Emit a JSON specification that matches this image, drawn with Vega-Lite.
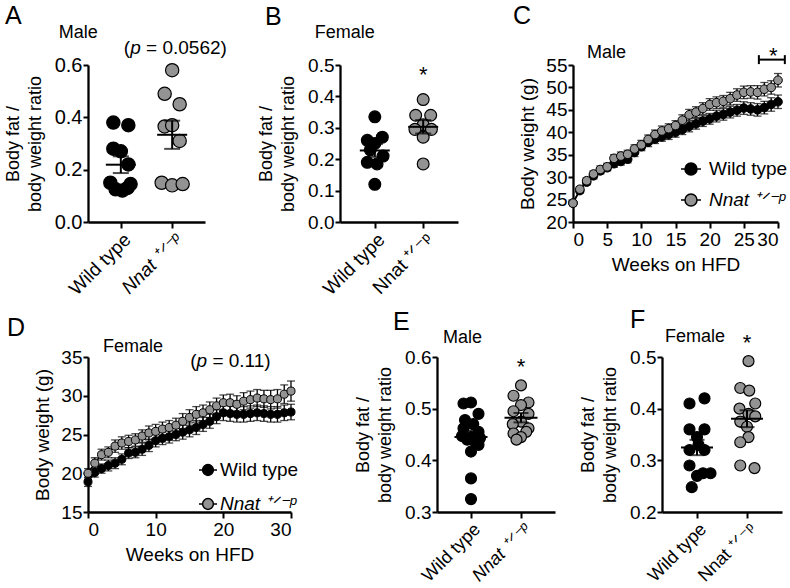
{
  "$schema": "https://vega.github.io/schema/vega-lite/v6.json",
  "autosize": {"type": "pad"},
  "padding": {"left": 4, "top": 3, "right": 0, "bottom": 0},
  "background": "white",
  "config": {
    "font": "Liberation Sans",
    "view": {"stroke": null},
    "axis": {"domainColor": "black", "domainWidth": 2.3, "tickColor": "black", "tickWidth": 2, "tickSize": 6, "labelColor": "black", "titleColor": "black", "labelFontSize": 19, "titleFontSize": 18, "titleFontWeight": "normal", "grid": false, "labelPadding": 2, "titlePadding": 10, "labelOverlap": false},
    "title": {"fontSize": 25, "fontWeight": "normal", "anchor": "start", "frame": "group", "color": "black"},
    "text": {"color": "black", "font": "Liberation Sans", "baseline": "alphabetic"}
  },
  "resolve": {"scale": {"fill": "independent"}, "legend": {"fill": "independent"}},
  "datasets": {
    "fatA": [
      {"group": "Wild type", "ratio": 0.38, "slot": -1},
      {"group": "Wild type", "ratio": 0.37, "slot": 1},
      {"group": "Wild type", "ratio": 0.28, "slot": -1},
      {"group": "Wild type", "ratio": 0.27, "slot": 0},
      {"group": "Wild type", "ratio": 0.22, "slot": 1},
      {"group": "Wild type", "ratio": 0.15, "slot": -1.4},
      {"group": "Wild type", "ratio": 0.145, "slot": 1.3},
      {"group": "Wild type", "ratio": 0.125, "slot": -0.7},
      {"group": "Wild type", "ratio": 0.12, "slot": 0.2},
      {"group": "Wild type", "ratio": 0.13, "slot": 0.9},
      {"group": "Nnat", "ratio": 0.58, "slot": 0},
      {"group": "Nnat", "ratio": 0.49, "slot": -1},
      {"group": "Nnat", "ratio": 0.45, "slot": 1},
      {"group": "Nnat", "ratio": 0.365, "slot": -1},
      {"group": "Nnat", "ratio": 0.37, "slot": 0},
      {"group": "Nnat", "ratio": 0.31, "slot": 1},
      {"group": "Nnat", "ratio": 0.15, "slot": -1.4},
      {"group": "Nnat", "ratio": 0.14, "slot": 0},
      {"group": "Nnat", "ratio": 0.145, "slot": 1.4}
    ],
    "fatB": [
      {"group": "Wild type", "ratio": 0.335, "slot": 0},
      {"group": "Wild type", "ratio": 0.27, "slot": 1},
      {"group": "Wild type", "ratio": 0.26, "slot": -1},
      {"group": "Wild type", "ratio": 0.25, "slot": 0},
      {"group": "Wild type", "ratio": 0.23, "slot": -0.6},
      {"group": "Wild type", "ratio": 0.21, "slot": 1.1},
      {"group": "Wild type", "ratio": 0.19, "slot": -1},
      {"group": "Wild type", "ratio": 0.185, "slot": 0.3},
      {"group": "Wild type", "ratio": 0.12, "slot": 0},
      {"group": "Nnat", "ratio": 0.39, "slot": 0},
      {"group": "Nnat", "ratio": 0.34, "slot": -1},
      {"group": "Nnat", "ratio": 0.34, "slot": 1},
      {"group": "Nnat", "ratio": 0.31, "slot": 0},
      {"group": "Nnat", "ratio": 0.295, "slot": -1.1},
      {"group": "Nnat", "ratio": 0.295, "slot": 1.1},
      {"group": "Nnat", "ratio": 0.27, "slot": 0},
      {"group": "Nnat", "ratio": 0.185, "slot": 0}
    ],
    "fatE": [
      {"group": "Wild type", "ratio": 0.51, "slot": -1},
      {"group": "Wild type", "ratio": 0.512, "slot": 0},
      {"group": "Wild type", "ratio": 0.49, "slot": 1},
      {"group": "Wild type", "ratio": 0.478, "slot": -0.8},
      {"group": "Wild type", "ratio": 0.47, "slot": 0.3},
      {"group": "Wild type", "ratio": 0.462, "slot": -1},
      {"group": "Wild type", "ratio": 0.455, "slot": 1},
      {"group": "Wild type", "ratio": 0.447, "slot": -1.2},
      {"group": "Wild type", "ratio": 0.445, "slot": 0},
      {"group": "Wild type", "ratio": 0.443, "slot": 1.2},
      {"group": "Wild type", "ratio": 0.44, "slot": -0.5},
      {"group": "Wild type", "ratio": 0.435, "slot": 0.6},
      {"group": "Wild type", "ratio": 0.43, "slot": 1},
      {"group": "Wild type", "ratio": 0.417, "slot": 0},
      {"group": "Wild type", "ratio": 0.365, "slot": 0},
      {"group": "Wild type", "ratio": 0.325, "slot": 0},
      {"group": "Nnat", "ratio": 0.545, "slot": 0},
      {"group": "Nnat", "ratio": 0.525, "slot": -1},
      {"group": "Nnat", "ratio": 0.512, "slot": 1},
      {"group": "Nnat", "ratio": 0.507, "slot": 0},
      {"group": "Nnat", "ratio": 0.495, "slot": -1},
      {"group": "Nnat", "ratio": 0.49, "slot": 1},
      {"group": "Nnat", "ratio": 0.475, "slot": 0},
      {"group": "Nnat", "ratio": 0.47, "slot": -1.1},
      {"group": "Nnat", "ratio": 0.462, "slot": 1},
      {"group": "Nnat", "ratio": 0.455, "slot": 0.7},
      {"group": "Nnat", "ratio": 0.452, "slot": -1},
      {"group": "Nnat", "ratio": 0.445, "slot": 0},
      {"group": "Nnat", "ratio": 0.44, "slot": -0.6}
    ],
    "fatF": [
      {"group": "Wild type", "ratio": 0.42, "slot": 1},
      {"group": "Wild type", "ratio": 0.41, "slot": -1},
      {"group": "Wild type", "ratio": 0.36, "slot": -1},
      {"group": "Wild type", "ratio": 0.36, "slot": 1},
      {"group": "Wild type", "ratio": 0.345, "slot": 0},
      {"group": "Wild type", "ratio": 0.32, "slot": -1},
      {"group": "Wild type", "ratio": 0.33, "slot": 0.2},
      {"group": "Wild type", "ratio": 0.32, "slot": 1},
      {"group": "Wild type", "ratio": 0.29, "slot": -1},
      {"group": "Wild type", "ratio": 0.275, "slot": 0.8},
      {"group": "Wild type", "ratio": 0.275, "slot": 1.8},
      {"group": "Wild type", "ratio": 0.27, "slot": 0},
      {"group": "Wild type", "ratio": 0.248, "slot": -0.7},
      {"group": "Nnat", "ratio": 0.492, "slot": 0.2},
      {"group": "Nnat", "ratio": 0.44, "slot": -0.9},
      {"group": "Nnat", "ratio": 0.435, "slot": 0.3},
      {"group": "Nnat", "ratio": 0.41, "slot": 1.1},
      {"group": "Nnat", "ratio": 0.4, "slot": -1},
      {"group": "Nnat", "ratio": 0.39, "slot": 0.2},
      {"group": "Nnat", "ratio": 0.385, "slot": 1.1},
      {"group": "Nnat", "ratio": 0.375, "slot": -0.9},
      {"group": "Nnat", "ratio": 0.365, "slot": 0},
      {"group": "Nnat", "ratio": 0.345, "slot": 0.2},
      {"group": "Nnat", "ratio": 0.335, "slot": -0.9},
      {"group": "Nnat", "ratio": 0.29, "slot": -0.9},
      {"group": "Nnat", "ratio": 0.285, "slot": 1}
    ],
    "bwC": [
      {"week": 0, "group": "Wild type", "mean": 24.2, "sem": 0.5},
      {"week": 1, "group": "Wild type", "mean": 27.0, "sem": 0.6},
      {"week": 2, "group": "Wild type", "mean": 28.9, "sem": 0.6},
      {"week": 3, "group": "Wild type", "mean": 30.3, "sem": 0.7},
      {"week": 4, "group": "Wild type", "mean": 31.4, "sem": 0.7},
      {"week": 5, "group": "Wild type", "mean": 32.1, "sem": 0.7},
      {"week": 6, "group": "Wild type", "mean": 33.0, "sem": 0.8},
      {"week": 7, "group": "Wild type", "mean": 33.5, "sem": 0.8},
      {"week": 8, "group": "Wild type", "mean": 34.0, "sem": 0.8},
      {"week": 9, "group": "Wild type", "mean": 35.5, "sem": 0.9},
      {"week": 10, "group": "Wild type", "mean": 36.8, "sem": 0.9},
      {"week": 11, "group": "Wild type", "mean": 37.8, "sem": 1.0},
      {"week": 12, "group": "Wild type", "mean": 38.5, "sem": 1.0},
      {"week": 13, "group": "Wild type", "mean": 39.0, "sem": 1.0},
      {"week": 14, "group": "Wild type", "mean": 39.5, "sem": 1.1},
      {"week": 15, "group": "Wild type", "mean": 40.0, "sem": 1.1},
      {"week": 16, "group": "Wild type", "mean": 40.6, "sem": 1.1},
      {"week": 17, "group": "Wild type", "mean": 41.3, "sem": 1.2},
      {"week": 18, "group": "Wild type", "mean": 41.9, "sem": 1.2},
      {"week": 19, "group": "Wild type", "mean": 42.5, "sem": 1.2},
      {"week": 20, "group": "Wild type", "mean": 43.0, "sem": 1.2},
      {"week": 21, "group": "Wild type", "mean": 43.6, "sem": 1.3},
      {"week": 22, "group": "Wild type", "mean": 44.0, "sem": 1.3},
      {"week": 23, "group": "Wild type", "mean": 44.5, "sem": 1.3},
      {"week": 24, "group": "Wild type", "mean": 44.9, "sem": 1.3},
      {"week": 25, "group": "Wild type", "mean": 45.4, "sem": 1.4},
      {"week": 26, "group": "Wild type", "mean": 45.2, "sem": 1.4},
      {"week": 27, "group": "Wild type", "mean": 45.0, "sem": 1.4},
      {"week": 28, "group": "Wild type", "mean": 45.5, "sem": 1.4},
      {"week": 29, "group": "Wild type", "mean": 46.2, "sem": 1.5},
      {"week": 30, "group": "Wild type", "mean": 46.8, "sem": 1.5},
      {"week": 0, "group": "Nnat", "mean": 24.2, "sem": 0.6},
      {"week": 1, "group": "Nnat", "mean": 27.3, "sem": 0.6},
      {"week": 2, "group": "Nnat", "mean": 29.2, "sem": 0.7},
      {"week": 3, "group": "Nnat", "mean": 30.7, "sem": 0.7},
      {"week": 4, "group": "Nnat", "mean": 31.7, "sem": 0.8},
      {"week": 5, "group": "Nnat", "mean": 32.3, "sem": 0.8},
      {"week": 6, "group": "Nnat", "mean": 34.2, "sem": 0.8},
      {"week": 7, "group": "Nnat", "mean": 34.7, "sem": 0.9},
      {"week": 8, "group": "Nnat", "mean": 35.1, "sem": 0.9},
      {"week": 9, "group": "Nnat", "mean": 36.3, "sem": 0.9},
      {"week": 10, "group": "Nnat", "mean": 37.2, "sem": 1.0},
      {"week": 11, "group": "Nnat", "mean": 38.4, "sem": 1.0},
      {"week": 12, "group": "Nnat", "mean": 39.5, "sem": 1.0},
      {"week": 13, "group": "Nnat", "mean": 40.3, "sem": 1.1},
      {"week": 14, "group": "Nnat", "mean": 40.8, "sem": 1.1},
      {"week": 15, "group": "Nnat", "mean": 41.5, "sem": 1.1},
      {"week": 16, "group": "Nnat", "mean": 42.7, "sem": 1.2},
      {"week": 17, "group": "Nnat", "mean": 43.9, "sem": 1.2},
      {"week": 18, "group": "Nnat", "mean": 44.5, "sem": 1.2},
      {"week": 19, "group": "Nnat", "mean": 45.3, "sem": 1.3},
      {"week": 20, "group": "Nnat", "mean": 46.2, "sem": 1.3},
      {"week": 21, "group": "Nnat", "mean": 46.6, "sem": 1.3},
      {"week": 22, "group": "Nnat", "mean": 46.9, "sem": 1.3},
      {"week": 23, "group": "Nnat", "mean": 47.5, "sem": 1.4},
      {"week": 24, "group": "Nnat", "mean": 48.3, "sem": 1.4},
      {"week": 25, "group": "Nnat", "mean": 48.9, "sem": 1.4},
      {"week": 26, "group": "Nnat", "mean": 49.0, "sem": 1.4},
      {"week": 27, "group": "Nnat", "mean": 48.9, "sem": 1.5},
      {"week": 28, "group": "Nnat", "mean": 49.6, "sem": 1.5},
      {"week": 29, "group": "Nnat", "mean": 50.0, "sem": 1.5},
      {"week": 30, "group": "Nnat", "mean": 51.6, "sem": 1.5}
    ],
    "bwD": [
      {"week": 0, "group": "Wild type", "mean": 18.9, "sem": 0.6},
      {"week": 1, "group": "Wild type", "mean": 20.1, "sem": 0.6},
      {"week": 2, "group": "Wild type", "mean": 20.6, "sem": 0.6},
      {"week": 3, "group": "Wild type", "mean": 21.0, "sem": 0.7},
      {"week": 4, "group": "Wild type", "mean": 21.3, "sem": 0.7},
      {"week": 5, "group": "Wild type", "mean": 21.8, "sem": 0.7},
      {"week": 6, "group": "Wild type", "mean": 22.6, "sem": 0.7},
      {"week": 7, "group": "Wild type", "mean": 22.7, "sem": 0.7},
      {"week": 8, "group": "Wild type", "mean": 23.1, "sem": 0.8},
      {"week": 9, "group": "Wild type", "mean": 23.6, "sem": 0.8},
      {"week": 10, "group": "Wild type", "mean": 24.2, "sem": 0.8},
      {"week": 11, "group": "Wild type", "mean": 24.5, "sem": 0.8},
      {"week": 12, "group": "Wild type", "mean": 24.7, "sem": 0.8},
      {"week": 13, "group": "Wild type", "mean": 25.0, "sem": 0.8},
      {"week": 14, "group": "Wild type", "mean": 25.3, "sem": 0.9},
      {"week": 15, "group": "Wild type", "mean": 25.6, "sem": 0.9},
      {"week": 16, "group": "Wild type", "mean": 25.9, "sem": 0.9},
      {"week": 17, "group": "Wild type", "mean": 26.3, "sem": 0.9},
      {"week": 18, "group": "Wild type", "mean": 26.7, "sem": 0.9},
      {"week": 19, "group": "Wild type", "mean": 27.3, "sem": 0.9},
      {"week": 20, "group": "Wild type", "mean": 27.8, "sem": 1.0},
      {"week": 21, "group": "Wild type", "mean": 27.7, "sem": 1.0},
      {"week": 22, "group": "Wild type", "mean": 27.6, "sem": 1.0},
      {"week": 23, "group": "Wild type", "mean": 27.6, "sem": 1.0},
      {"week": 24, "group": "Wild type", "mean": 27.7, "sem": 1.0},
      {"week": 25, "group": "Wild type", "mean": 27.8, "sem": 1.0},
      {"week": 26, "group": "Wild type", "mean": 27.7, "sem": 1.0},
      {"week": 27, "group": "Wild type", "mean": 27.6, "sem": 1.0},
      {"week": 28, "group": "Wild type", "mean": 27.6, "sem": 1.0},
      {"week": 29, "group": "Wild type", "mean": 27.8, "sem": 1.0},
      {"week": 30, "group": "Wild type", "mean": 27.9, "sem": 1.0},
      {"week": 0, "group": "Nnat", "mean": 20.0, "sem": 0.6},
      {"week": 1, "group": "Nnat", "mean": 21.3, "sem": 0.7},
      {"week": 2, "group": "Nnat", "mean": 22.4, "sem": 0.7},
      {"week": 3, "group": "Nnat", "mean": 22.7, "sem": 0.7},
      {"week": 4, "group": "Nnat", "mean": 23.5, "sem": 0.8},
      {"week": 5, "group": "Nnat", "mean": 23.9, "sem": 0.8},
      {"week": 6, "group": "Nnat", "mean": 24.1, "sem": 0.8},
      {"week": 7, "group": "Nnat", "mean": 24.3, "sem": 0.8},
      {"week": 8, "group": "Nnat", "mean": 24.8, "sem": 0.8},
      {"week": 9, "group": "Nnat", "mean": 25.2, "sem": 0.9},
      {"week": 10, "group": "Nnat", "mean": 25.4, "sem": 0.9},
      {"week": 11, "group": "Nnat", "mean": 25.7, "sem": 0.9},
      {"week": 12, "group": "Nnat", "mean": 25.9, "sem": 0.9},
      {"week": 13, "group": "Nnat", "mean": 26.2, "sem": 0.9},
      {"week": 14, "group": "Nnat", "mean": 26.7, "sem": 1.0},
      {"week": 15, "group": "Nnat", "mean": 27.2, "sem": 1.0},
      {"week": 16, "group": "Nnat", "mean": 27.6, "sem": 1.0},
      {"week": 17, "group": "Nnat", "mean": 27.8, "sem": 1.0},
      {"week": 18, "group": "Nnat", "mean": 28.2, "sem": 1.0},
      {"week": 19, "group": "Nnat", "mean": 28.7, "sem": 1.0},
      {"week": 20, "group": "Nnat", "mean": 29.1, "sem": 1.0},
      {"week": 21, "group": "Nnat", "mean": 29.1, "sem": 1.1},
      {"week": 22, "group": "Nnat", "mean": 28.9, "sem": 1.1},
      {"week": 23, "group": "Nnat", "mean": 29.3, "sem": 1.1},
      {"week": 24, "group": "Nnat", "mean": 29.5, "sem": 1.1},
      {"week": 25, "group": "Nnat", "mean": 29.7, "sem": 1.1},
      {"week": 26, "group": "Nnat", "mean": 29.6, "sem": 1.1},
      {"week": 27, "group": "Nnat", "mean": 29.5, "sem": 1.2},
      {"week": 28, "group": "Nnat", "mean": 29.6, "sem": 1.2},
      {"week": 29, "group": "Nnat", "mean": 30.2, "sem": 1.2},
      {"week": 30, "group": "Nnat", "mean": 30.6, "sem": 1.3}
    ]
  },
  "concat": [
    {
      "width": 252, "height": 157,
      "title": {"text": "A", "dx": -83, "dy": 9},
      "layer": [
        {"data": {"name": "fatA"},
         "mark": {"type": "point", "filled": true, "size": 177, "opacity": 1, "stroke": "black", "strokeWidth": 1.2},
         "encoding": {
           "x": {"field": "group", "type": "nominal", "scale": {"type": "point", "domain": ["Wild type", "Nnat"], "range": [0, 117], "padding": 0.64},
                 "axis": {"title": null, "labelAngle": -45, "labelFontSize": 19, "labelOverlap": false, "labelExpr": "datum.value == 'Nnat' ? 'Nnat ⁺ᐟ⁻ᵖ' : datum.value", "labelFontStyle": {"condition": {"test": "datum.value == 'Nnat'", "value": "italic"}, "value": "normal"}}},
           "xOffset": {"field": "slot", "type": "quantitative", "scale": {"domain": [-2, 2], "range": [-15, 15]}},
           "y": {"field": "ratio", "type": "quantitative", "scale": {"domain": [0, 0.6], "nice": false, "zero": false},
                 "axis": {"title": ["Body fat /", "body weight ratio"], "values": [0, 0.2, 0.4, 0.6], "tickCount": 50, "format": ".1f", "labelFontSize": 20, "titleLineHeight": 22, "tickSize": 5, "labelPadding": 1}},
           "fill": {"field": "group", "type": "nominal", "scale": {"domain": ["Wild type", "Nnat"], "range": ["black", "#939393"]}, "legend": null}
         }},
        {"data": {"name": "fatA"}, "mark": {"type": "tick", "color": "black", "thickness": 2, "size": 30},
         "encoding": {"x": {"field": "group", "type": "nominal"}, "y": {"field": "ratio", "aggregate": "mean", "type": "quantitative", "title": ["Body fat /", "body weight ratio"]}}},
        {"data": {"name": "fatA"}, "mark": {"type": "errorbar", "extent": "stderr", "ticks": true, "size": 16, "thickness": 2, "color": "black"},
         "encoding": {"x": {"field": "group", "type": "nominal"}, "y": {"field": "ratio", "type": "quantitative", "title": ["Body fat /", "body weight ratio"]}}},
        {"data": {"values": [{}]}, "mark": {"type": "text", "align": "left", "baseline": "alphabetic", "fontSize": 18, "dx": -62},
         "encoding": {"x": {"datum": "Wild type", "type": "nominal"}, "y": {"datum": 0.704, "type": "quantitative"}, "text": {"value": "Male"}}},
        {"data": {"values": [{}]}, "mark": {"type": "text", "align": "left", "baseline": "alphabetic", "fontSize": 19, "dx": 3},
         "encoding": {"x": {"datum": "Wild type", "type": "nominal"}, "y": {"datum": 0.642, "type": "quantitative"}, "text": {"value": "("}}},
        {"data": {"values": [{}]}, "mark": {"type": "text", "align": "left", "baseline": "alphabetic", "fontSize": 19, "dx": 9.3, "fontStyle": "italic"},
         "encoding": {"x": {"datum": "Wild type", "type": "nominal"}, "y": {"datum": 0.642, "type": "quantitative"}, "text": {"value": "p"}}},
        {"data": {"values": [{}]}, "mark": {"type": "text", "align": "left", "baseline": "alphabetic", "fontSize": 19, "dx": 25.2},
         "encoding": {"x": {"datum": "Wild type", "type": "nominal"}, "y": {"datum": 0.642, "type": "quantitative"}, "text": {"value": "= 0.0562)"}}}
      ]
    },
    {
      "width": 233, "height": 157,
      "title": {"text": "B", "dx": -75, "dy": 10},
      "layer": [
        {"data": {"name": "fatB"},
         "mark": {"type": "point", "filled": true, "size": 140, "opacity": 1, "stroke": "black", "strokeWidth": 1.2},
         "encoding": {
           "x": {"field": "group", "type": "nominal", "scale": {"type": "point", "domain": ["Wild type", "Nnat"], "range": [0, 118], "padding": 0.72},
                 "axis": {"title": null, "labelAngle": -45, "labelFontSize": 19, "labelOverlap": false, "labelExpr": "datum.value == 'Nnat' ? 'Nnat ⁺ᐟ⁻ᵖ' : datum.value"}},
           "xOffset": {"field": "slot", "type": "quantitative", "scale": {"domain": [-2, 2], "range": [-17, 17]}},
           "y": {"field": "ratio", "type": "quantitative", "scale": {"domain": [0, 0.5], "nice": false, "zero": false},
                 "axis": {"title": ["Body fat /", "body weight ratio"], "values": [0, 0.1, 0.2, 0.3, 0.4, 0.5], "tickCount": 50, "format": ".1f", "titleLineHeight": 22, "tickSize": 5, "labelPadding": 1}},
           "fill": {"field": "group", "type": "nominal", "scale": {"domain": ["Wild type", "Nnat"], "range": ["black", "#939393"]}, "legend": null}
         }},
        {"data": {"name": "fatB"}, "mark": {"type": "tick", "color": "black", "thickness": 2, "size": 30},
         "encoding": {"x": {"field": "group", "type": "nominal"}, "y": {"field": "ratio", "aggregate": "mean", "type": "quantitative", "title": ["Body fat /", "body weight ratio"]}}},
        {"data": {"name": "fatB"}, "mark": {"type": "errorbar", "extent": "stderr", "ticks": true, "size": 16, "thickness": 2, "color": "black"},
         "encoding": {"x": {"field": "group", "type": "nominal"}, "y": {"field": "ratio", "type": "quantitative", "title": ["Body fat /", "body weight ratio"]}}},
        {"data": {"values": [{}]}, "mark": {"type": "text", "align": "right", "baseline": "alphabetic", "fontSize": 18, "dx": 0},
         "encoding": {"x": {"datum": "Wild type", "type": "nominal"}, "y": {"datum": 0.585, "type": "quantitative"}, "text": {"value": "Female"}}},
        {"data": {"values": [{}]}, "mark": {"type": "text", "align": "center", "baseline": "alphabetic", "fontSize": 22},
         "encoding": {"x": {"datum": "Nnat", "type": "nominal"}, "y": {"datum": 0.447, "type": "quantitative"}, "text": {"value": "*"}}}
      ]
    },
    {
      "width": 205, "height": 157,
      "title": {"text": "C", "dx": -60, "dy": -11},
      "layer": [
        {"data": {"name": "bwC"}, "mark": {"type": "errorbar", "ticks": true, "size": 8, "thickness": 1.3, "color": "black"},
         "encoding": {"x": {"field": "week", "type": "quantitative"}, "y": {"field": "mean", "type": "quantitative", "title": "Body weight (g)"}, "yError": {"field": "sem"}, "detail": {"field": "group"}}},
        {"data": {"name": "bwC"}, "mark": {"type": "line", "color": "black", "strokeWidth": 1.5},
         "encoding": {"x": {"field": "week", "type": "quantitative"}, "y": {"field": "mean", "type": "quantitative"}, "detail": {"field": "group"}}},
        {"data": {"name": "bwC"}, "mark": {"type": "point", "filled": true, "size": 75, "opacity": 1, "stroke": "black", "strokeWidth": 1},
         "encoding": {
           "x": {"field": "week", "type": "quantitative", "scale": {"domain": [0, 30], "nice": false}, "axis": {"title": "Weeks on HFD", "values": [0, 5, 10, 15, 20, 25, 30], "tickCount": 50, "format": "d", "titleFontSize": 19, "titlePadding": 6}},
           "y": {"field": "mean", "type": "quantitative", "scale": {"domain": [20, 55], "nice": false, "zero": false}, "axis": {"title": "Body weight (g)", "values": [20, 25, 30, 35, 40, 45, 50, 55], "tickCount": 50, "format": "d", "titleFontSize": 19, "tickSize": 5, "labelPadding": 1, "titlePadding": 8}},
           "fill": {"field": "group", "type": "nominal", "scale": {"domain": ["Wild type", "Nnat"], "range": ["black", "#939393"]},
                    "legend": {"orient": "none", "legendX": 107, "legendY": 93, "title": null, "padding": 0, "symbolType": "M -1 0 L -0.6 0 M 0.6 0 L 1 0 M 0.6 0 A 0.6 0.6 0 1 1 -0.6 0 A 0.6 0.6 0 1 1 0.6 0 Z", "symbolSize": 400, "symbolStrokeColor": "black", "symbolStrokeWidth": 1.5, "labelFontSize": 19, "labelColor": "black", "labelOffset": 7, "rowPadding": 10, "labelExpr": "datum.label == 'Nnat' ? 'Nnat ⁺ᐟ⁻ᵖ' : datum.label", "labelFontStyle": {"expr": "datum.value == 'Nnat' ? 'italic' : 'normal'"}}}
         }},
        {"data": {"values": [{}]}, "mark": {"type": "text", "align": "left", "baseline": "alphabetic", "fontSize": 18},
         "encoding": {"x": {"datum": 2.05, "type": "quantitative"}, "y": {"datum": 56.6, "type": "quantitative"}, "text": {"value": "Male"}}},
        {"data": {"values": [{}]}, "mark": {"type": "text", "align": "center", "baseline": "alphabetic", "fontSize": 22},
         "encoding": {"x": {"datum": 29.3, "type": "quantitative"}, "y": {"datum": 55.5, "type": "quantitative"}, "text": {"value": "*"}}},
        {"data": {"values": [{}]}, "mark": {"type": "rule", "color": "black", "strokeWidth": 2},
         "encoding": {"x": {"datum": 27.2, "type": "quantitative"}, "x2": {"datum": 31}, "y": {"datum": 56.2, "type": "quantitative"}}},
        {"data": {"values": [{"end": 27.2}, {"end": 31}]}, "mark": {"type": "rule", "color": "black", "strokeWidth": 2},
         "encoding": {"x": {"field": "end", "type": "quantitative"}, "y": {"datum": 55.2, "type": "quantitative"}, "y2": {"datum": 57.2}}}
      ]
    },
    {
      "width": 252, "height": 155,
      "title": {"text": "D", "dx": -81, "dy": 7},
      "layer": [
        {"data": {"name": "bwD"}, "mark": {"type": "errorbar", "ticks": true, "size": 8, "thickness": 1.3, "color": "black"},
         "encoding": {"x": {"field": "week", "type": "quantitative"}, "y": {"field": "mean", "type": "quantitative", "title": "Body weight (g)"}, "yError": {"field": "sem"}, "detail": {"field": "group"}}},
        {"data": {"name": "bwD"}, "mark": {"type": "line", "color": "black", "strokeWidth": 1.5},
         "encoding": {"x": {"field": "week", "type": "quantitative"}, "y": {"field": "mean", "type": "quantitative"}, "detail": {"field": "group"}}},
        {"data": {"name": "bwD"}, "mark": {"type": "point", "filled": true, "size": 65, "opacity": 1, "stroke": "black", "strokeWidth": 1},
         "encoding": {
           "x": {"field": "week", "type": "quantitative", "scale": {"domain": [0, 30], "nice": false, "range": [0, 203]}, "axis": {"title": "Weeks on HFD", "values": [0, 10, 20, 30], "tickCount": 50, "format": "d", "titleFontSize": 19, "titlePadding": 6}},
           "y": {"field": "mean", "type": "quantitative", "scale": {"domain": [15, 35], "nice": false, "zero": false}, "axis": {"title": "Body weight (g)", "values": [15, 20, 25, 30, 35], "tickCount": 50, "format": "d", "titleFontSize": 19, "tickSize": 5, "labelPadding": 1, "titlePadding": 8}},
           "fill": {"field": "group", "type": "nominal", "scale": {"domain": ["Wild type", "Nnat"], "range": ["black", "#939393"]},
                    "legend": {"orient": "none", "legendX": 110, "legendY": 103, "title": null, "padding": 0, "symbolType": "M -1 0 L -0.6 0 M 0.6 0 L 1 0 M 0.6 0 A 0.6 0.6 0 1 1 -0.6 0 A 0.6 0.6 0 1 1 0.6 0 Z", "symbolSize": 324, "symbolStrokeColor": "black", "symbolStrokeWidth": 1.5, "labelFontSize": 19, "labelColor": "black", "labelOffset": 2, "rowPadding": 14, "labelExpr": "datum.label == 'Nnat' ? 'Nnat ⁺ᐟ⁻ᵖ' : datum.label", "labelFontStyle": {"expr": "datum.value == 'Nnat' ? 'italic' : 'normal'"}}}
         }},
        {"data": {"values": [{}]}, "mark": {"type": "text", "align": "left", "baseline": "alphabetic", "fontSize": 18},
         "encoding": {"x": {"datum": 2.2, "type": "quantitative"}, "y": {"datum": 35.64, "type": "quantitative"}, "text": {"value": "Female"}}},
        {"data": {"values": [{}]}, "mark": {"type": "text", "align": "left", "baseline": "alphabetic", "fontSize": 19},
         "encoding": {"x": {"datum": 15.1, "type": "quantitative"}, "y": {"datum": 33.7, "type": "quantitative"}, "text": {"value": "("}}},
        {"data": {"values": [{}]}, "mark": {"type": "text", "align": "left", "baseline": "alphabetic", "fontSize": 19, "dx": 6.3, "fontStyle": "italic"},
         "encoding": {"x": {"datum": 15.1, "type": "quantitative"}, "y": {"datum": 33.7, "type": "quantitative"}, "text": {"value": "p"}}},
        {"data": {"values": [{}]}, "mark": {"type": "text", "align": "left", "baseline": "alphabetic", "fontSize": 19, "dx": 22.2},
         "encoding": {"x": {"datum": 15.1, "type": "quantitative"}, "y": {"datum": 33.7, "type": "quantitative"}, "text": {"value": "= 0.11)"}}}
      ]
    },
    {
      "width": 233, "height": 155,
      "title": {"text": "E", "dx": 53, "dy": 10},
      "layer": [
        {"data": {"name": "fatE"},
         "mark": {"type": "point", "filled": true, "size": 120, "opacity": 1, "stroke": "black", "strokeWidth": 1.2},
         "encoding": {
           "x": {"field": "group", "type": "nominal", "scale": {"type": "point", "domain": ["Wild type", "Nnat"], "range": [97, 215], "padding": 0.68},
                 "axis": {"title": null, "labelAngle": -45, "labelFontSize": 18, "labelOverlap": false, "labelExpr": "datum.value == 'Nnat' ? 'Nnat ⁺ᐟ⁻ᵖ' : datum.value", "labelFontStyle": {"condition": {"test": "datum.value == 'Nnat'", "value": "italic"}, "value": "normal"}}},
           "xOffset": {"field": "slot", "type": "quantitative", "scale": {"domain": [-2, 2], "range": [-19, 19]}},
           "y": {"field": "ratio", "type": "quantitative", "scale": {"domain": [0.3, 0.6], "nice": false, "zero": false},
                 "axis": {"offset": -97, "title": ["Body fat /", "body weight ratio"], "values": [0.3, 0.4, 0.5, 0.6], "tickCount": 50, "format": ".1f", "titleLineHeight": 22, "tickSize": 5, "labelPadding": 1}},
           "fill": {"field": "group", "type": "nominal", "scale": {"domain": ["Wild type", "Nnat"], "range": ["black", "#939393"]}, "legend": null}
         }},
        {"data": {"name": "fatE"}, "mark": {"type": "tick", "color": "black", "thickness": 2, "size": 33},
         "encoding": {"x": {"field": "group", "type": "nominal"}, "y": {"field": "ratio", "aggregate": "mean", "type": "quantitative", "title": ["Body fat /", "body weight ratio"]}}},
        {"data": {"name": "fatE"}, "mark": {"type": "errorbar", "extent": "stderr", "ticks": true, "size": 15, "thickness": 2, "color": "black"},
         "encoding": {"x": {"field": "group", "type": "nominal"}, "y": {"field": "ratio", "type": "quantitative", "title": ["Body fat /", "body weight ratio"]}}},
        {"data": {"values": [{}]}, "mark": {"type": "text", "align": "left", "baseline": "alphabetic", "fontSize": 18, "dx": -28},
         "encoding": {"x": {"datum": "Wild type", "type": "nominal"}, "y": {"datum": 0.627, "type": "quantitative"}, "text": {"value": "Male"}}},
        {"data": {"values": [{}]}, "mark": {"type": "text", "align": "center", "baseline": "alphabetic", "fontSize": 22},
         "encoding": {"x": {"datum": "Nnat", "type": "nominal"}, "y": {"datum": 0.567, "type": "quantitative"}, "text": {"value": "*"}}}
      ]
    },
    {
      "width": 209, "height": 155,
      "title": {"text": "F", "dx": 57, "dy": 9},
      "layer": [
        {"data": {"name": "fatF"},
         "mark": {"type": "point", "filled": true, "size": 120, "opacity": 1, "stroke": "black", "strokeWidth": 1.2},
         "encoding": {
           "x": {"field": "group", "type": "nominal", "scale": {"type": "point", "domain": ["Wild type", "Nnat"], "range": [89, 209], "padding": 0.7},
                 "axis": {"title": null, "labelAngle": -45, "labelFontSize": 18, "labelOverlap": false, "labelExpr": "datum.value == 'Nnat' ? 'Nnat ⁺ᐟ⁻ᵖ' : datum.value"}},
           "xOffset": {"field": "slot", "type": "quantitative", "scale": {"domain": [-2, 2], "range": [-17, 17]}},
           "y": {"field": "ratio", "type": "quantitative", "scale": {"domain": [0.2, 0.5], "nice": false, "zero": false},
                 "axis": {"offset": -89, "title": ["Body fat /", "body weight ratio"], "values": [0.2, 0.3, 0.4, 0.5], "tickCount": 50, "format": ".1f", "titleLineHeight": 22, "tickSize": 5, "labelPadding": 1}},
           "fill": {"field": "group", "type": "nominal", "scale": {"domain": ["Wild type", "Nnat"], "range": ["black", "#939393"]}, "legend": null}
         }},
        {"data": {"name": "fatF"}, "mark": {"type": "tick", "color": "black", "thickness": 2, "size": 32},
         "encoding": {"x": {"field": "group", "type": "nominal"}, "y": {"field": "ratio", "aggregate": "mean", "type": "quantitative", "title": ["Body fat /", "body weight ratio"]}}},
        {"data": {"name": "fatF"}, "mark": {"type": "errorbar", "extent": "stderr", "ticks": true, "size": 15, "thickness": 2, "color": "black"},
         "encoding": {"x": {"field": "group", "type": "nominal"}, "y": {"field": "ratio", "type": "quantitative", "title": ["Body fat /", "body weight ratio"]}}},
        {"data": {"values": [{}]}, "mark": {"type": "text", "align": "left", "baseline": "alphabetic", "fontSize": 18, "dx": -32},
         "encoding": {"x": {"datum": "Wild type", "type": "nominal"}, "y": {"datum": 0.53, "type": "quantitative"}, "text": {"value": "Female"}}},
        {"data": {"values": [{}]}, "mark": {"type": "text", "align": "center", "baseline": "alphabetic", "fontSize": 22},
         "encoding": {"x": {"datum": "Nnat", "type": "nominal"}, "y": {"datum": 0.514, "type": "quantitative"}, "text": {"value": "*"}}}
      ]
    }
  ],
  "columns": 3,
  "align": "each",
  "bounds": "flush",
  "spacing": {"row": 135, "column": 0}
}
